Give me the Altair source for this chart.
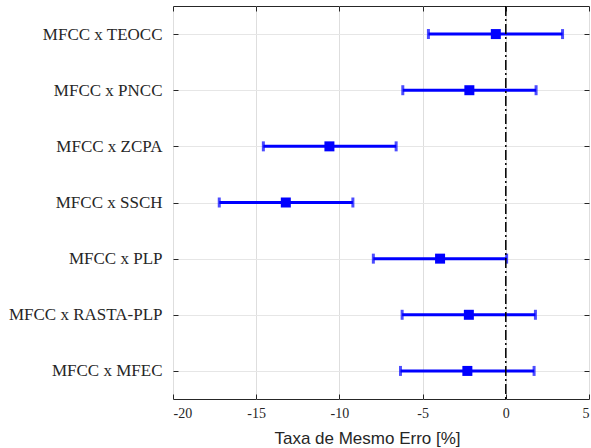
import altair as alt
import pandas as pd

# Error-rate differences of each front-end against MFCC (mean and interval)
pairs = [
    "MFCC x TEOCC",
    "MFCC x PNCC",
    "MFCC x ZCPA",
    "MFCC x SSCH",
    "MFCC x PLP",
    "MFCC x RASTA-PLP",
    "MFCC x MFEC",
]
mean = [-0.60, -2.19, -10.60, -13.22, -3.95, -2.22, -2.31]
lower = [-4.65, -6.19, -14.57, -17.22, -7.96, -6.23, -6.33]
upper = [3.41, 1.82, -6.59, -9.19, 0.05, 1.78, 1.70]
x_ticks = [-20, -15, -10, -5, 0, 5]
ref_line = [0]

df = pd.DataFrame({"pair": pairs, "mean": mean, "lower": lower, "upper": upper})
ref_df = pd.DataFrame({"x": ref_line})

AX = "#262626"
BLUE = "#0000ff"
SERIF = "Liberation Serif"

xscale = alt.Scale(domain=[-20, 5], nice=False, zero=False)
yscale = alt.Scale(type="point", domain=pairs, padding=0.5)

base = alt.Chart(df)

# horizontal interval lines, carrying labelled axes and grid
bars = base.mark_rule(color=BLUE, strokeWidth=3).encode(
    x=alt.X("lower:Q", scale=xscale, axis=alt.Axis(
        orient="bottom", values=x_ticks, grid=True, gridColor="#dedede",
        domain=False, ticks=False, labelFont=SERIF, labelFontSize=14,
        labelColor=AX, labelPadding=7, labelExpr="datum.value",
        title="Taxa de Mesmo Erro [%]", titleFont="Liberation Sans",
        titleFontSize=17, titleFontWeight="normal", titleColor=AX,
        titleX=194, titleY=44, titleBaseline="alphabetic")),
    x2="upper:Q",
    y=alt.Y("pair:N", scale=yscale, sort=pairs, axis=alt.Axis(
        orient="left", grid=True, gridColor="#e6e6e6", domain=False,
        ticks=False, labelFont=SERIF, labelFontSize=17, labelColor=AX,
        labelPadding=11, title=None)),
)

# lower caps, with inward ticks on top and right edges
caps_low = base.mark_tick(color=BLUE, thickness=3, size=10).encode(
    x=alt.X("lower:Q", scale=xscale, axis=alt.Axis(
        orient="top", values=x_ticks, labels=False, grid=False,
        domain=False, ticks=True, tickSize=5, tickColor=AX, offset=-5,
        title=None)),
    y=alt.Y("pair:N", scale=yscale, sort=pairs, axis=alt.Axis(
        orient="right", labels=False, grid=False, domain=False, ticks=True,
        tickSize=5, tickColor=AX, offset=-5, title=None)),
)

# upper caps, with inward ticks on bottom and left edges
caps_high = base.mark_tick(color=BLUE, thickness=3, size=10).encode(
    x=alt.X("upper:Q", scale=xscale, axis=alt.Axis(
        orient="bottom", values=x_ticks, labels=False, grid=False,
        domain=False, ticks=True, tickSize=5, tickColor=AX, offset=-5,
        title=None)),
    y=alt.Y("pair:N", scale=yscale, sort=pairs, axis=alt.Axis(
        orient="left", labels=False, grid=False, domain=False, ticks=True,
        tickSize=5, tickColor=AX, offset=-5, title=None)),
)

points = base.mark_square(color=BLUE, size=100, opacity=1, filled=True).encode(
    x=alt.X("mean:Q", scale=xscale, axis=None),
    y=alt.Y("pair:N", scale=yscale, sort=pairs, axis=None),
)

zero = alt.Chart(ref_df).mark_rule(
    color="black", strokeWidth=1.5, strokeDash=[10, 3, 2, 3]
).encode(x=alt.X("x:Q", scale=xscale, axis=None))

chart = (
    alt.layer(bars, caps_low, caps_high, points, zero)
    .resolve_axis(x="independent", y="independent")
    .properties(
        width=416, height=393,
        autosize=alt.AutoSizeParams(type="none"),
        padding={"left": 173, "top": 6, "right": 2, "bottom": 49},
        background="white",
    )
    .configure_view(stroke=AX, strokeWidth=1)
)

chart.save("out.html", embed_options={"renderer": "svg", "actions": False})
